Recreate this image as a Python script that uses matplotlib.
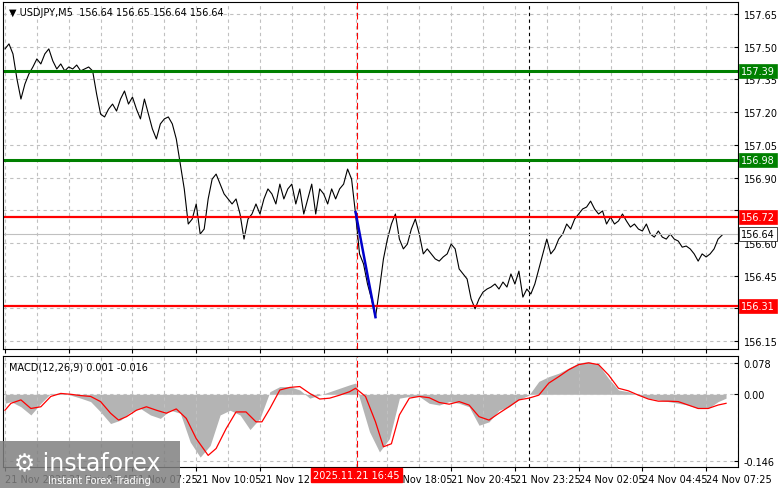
import numpy as np
import matplotlib
matplotlib.use('Agg')
from matplotlib import pyplot as plt
from matplotlib.patches import Rectangle

# close prices, one value every 2 bars (M5)
price = [157.490, 157.513, 157.467, 157.352, 157.260, 157.329, 157.375, 157.407, 157.444, 157.421,
         157.467, 157.490, 157.435, 157.398, 157.421, 157.389, 157.407, 157.398, 157.416, 157.389,
         157.398, 157.407, 157.389, 157.283, 157.191, 157.178, 157.214, 157.237, 157.205, 157.260,
         157.297, 157.237, 157.269, 157.214, 157.169, 157.260, 157.191, 157.123, 157.077, 157.146,
         157.169, 157.178, 157.146, 157.077, 156.962, 156.848, 156.687, 156.710, 156.779, 156.641,
         156.664, 156.802, 156.893, 156.916, 156.870, 156.825, 156.802, 156.779, 156.802, 156.733,
         156.618, 156.710, 156.733, 156.779, 156.733, 156.802, 156.848, 156.825, 156.779, 156.870,
         156.802, 156.848, 156.870, 156.779, 156.848, 156.733, 156.802, 156.870, 156.733, 156.848,
         156.825, 156.779, 156.848, 156.802, 156.848, 156.870, 156.939, 156.893, 156.733, 156.550,
         156.504, 156.412, 156.344, 156.260, 156.389, 156.527, 156.618, 156.687, 156.733, 156.618,
         156.573, 156.595, 156.664, 156.710, 156.641, 156.550, 156.573, 156.550, 156.527, 156.517,
         156.536, 156.550, 156.595, 156.573, 156.481, 156.458, 156.435, 156.344, 156.298, 156.344,
         156.375, 156.389, 156.398, 156.412, 156.389, 156.421, 156.398, 156.458, 156.412, 156.471,
         156.352, 156.389, 156.366, 156.412, 156.481, 156.550, 156.618, 156.550, 156.573, 156.618,
         156.641, 156.687, 156.664, 156.710, 156.733, 156.756, 156.765, 156.792, 156.756, 156.733,
         156.747, 156.687, 156.719, 156.687, 156.701, 156.733, 156.701, 156.673, 156.687, 156.664,
         156.655, 156.687, 156.641, 156.627, 156.655, 156.627, 156.618, 156.641, 156.618, 156.609,
         156.581, 156.586, 156.573, 156.550, 156.517, 156.550, 156.536, 156.550, 156.573, 156.618,
         156.636]

# MACD histogram (every 5 bars) and signal line
hist_bars = [0, 3, 8, 13, 18, 23, 28, 33, 38, 43, 48, 53, 58, 63, 68, 73, 78, 83, 88, 93,
             98, 103, 108, 113, 118, 123, 128, 133, 138, 143, 148, 153, 158, 163, 168, 173, 176,
             178, 183, 188, 193, 198, 203, 208, 213, 218, 223, 228, 233, 238, 243, 248, 253, 258,
             263, 268, 273, 278, 283, 288, 293, 298, 303, 308, 313, 318, 323, 328, 333, 338, 343,
             348, 353, 358, 362]
hist = [-0.021, -0.017, -0.029, -0.048, -0.021, 0.002, 0.002, -0.002, -0.009, -0.017,
        -0.041, -0.068, -0.060, -0.041, -0.033, -0.048, -0.056, -0.037, -0.044, -0.111,
        -0.146, -0.119, -0.048, -0.037, -0.048, -0.082, -0.056, 0.006, 0.018, 0.018,
        0.010, -0.009, -0.002, 0.006, 0.014, 0.022, 0.026, -0.009, -0.087, -0.134,
        -0.103, -0.009, -0.005, -0.005, -0.021, -0.025, -0.017, -0.021, -0.029, -0.072,
        -0.064, -0.037, -0.029, -0.013, -0.002, 0.030, 0.041, 0.049, 0.061, 0.073,
        0.076, 0.069, 0.037, 0.010, 0.006, -0.002, -0.009, -0.013, -0.017, -0.021,
        -0.025, -0.033, -0.033, -0.017, -0.009]
sig_bars = [0, 3, 8, 13, 18, 23, 28, 33, 38, 43, 48, 53, 57, 61, 66, 71, 76, 81, 86, 91,
            96, 102, 106, 111, 116, 121, 126, 129, 133, 138, 143, 148, 153, 158, 163, 168, 173,
            176, 181, 186, 190, 194, 198, 203, 208, 213, 218, 223, 228, 233, 238, 243, 248, 253,
            258, 263, 268, 273, 278, 283, 288, 293, 298, 303, 308, 313, 318, 323, 328, 333, 338,
            343, 348, 353, 358, 362]
signal = [-0.037, -0.021, -0.013, -0.033, -0.029, -0.005, 0.002, 0.000, -0.003, -0.005,
          -0.017, -0.044, -0.060, -0.052, -0.037, -0.029, -0.037, -0.044, -0.034, -0.056,
          -0.103, -0.142, -0.126, -0.080, -0.041, -0.041, -0.064, -0.064, -0.033, 0.010,
          0.016, 0.018, 0.002, -0.011, -0.009, -0.002, 0.006, 0.014, -0.005, -0.064,
          -0.122, -0.115, -0.048, -0.009, -0.005, -0.008, -0.019, -0.023, -0.017, -0.025,
          -0.052, -0.060, -0.044, -0.029, -0.013, -0.009, -0.002, 0.026, 0.041, 0.057,
          0.069, 0.073, 0.069, 0.045, 0.014, 0.008, -0.002, -0.011, -0.016, -0.016,
          -0.017, -0.025, -0.033, -0.033, -0.025, -0.021]

green_levels = [157.39, 156.98]
red_levels = [156.72, 156.31]
last_price = 156.64
drop_bars = [176, 186]
drop_prices = [156.742, 156.26]

price_ticks = [157.65, 157.50, 157.35, 157.20, 157.05, 156.90, 156.75, 156.60, 156.45, 156.30, 156.15]
hidden_ticks = [156.75, 156.30]  # covered by the level boxes
time_labels = ['21 Nov 2025', '21 Nov 04:45', '21 Nov 07:25', '21 Nov 10:05', '21 Nov 12:45',
               '21 Nov 15:25', '21 Nov 18:05', '21 Nov 20:45', '21 Nov 23:25', '24 Nov 02:05',
               '24 Nov 04:45', '24 Nov 07:25']
time_ticks = [32 * k for k in range(len(time_labels))]
cursor_bar = 176.5
cursor_label = '2025.11.21 16:45'
marker_bar = 263

W, H = 781, 489
fig = plt.figure(figsize=(W / 100, H / 100), dpi=100)
fig.patch.set_facecolor('white')
xmin, xmax = -1, 367.5

ax = fig.add_axes([3 / W, 1 - 350 / H, 735 / W, 347 / H])
ax2 = fig.add_axes([3 / W, 1 - 468 / H, 735 / W, 111 / H])

for a in (ax, ax2):
    a.set_xlim(xmin, xmax)
    a.set_xticks(time_ticks)
    a.set_xticks([t + 16 for t in time_ticks], minor=True)
    a.grid(True, which='both', color='#c0c0c0', linestyle=(0, (3, 3)), linewidth=0.8)
    a.yaxis.tick_right()
    a.tick_params(axis='y', direction='in', length=3, labelsize=7, pad=4)
    a.tick_params(axis='x', length=3, direction='out')
    a.tick_params(axis='x', which='minor', length=0)
    for s in a.spines.values():
        s.set_color('black')
        s.set_linewidth(0.8)
    a.axvline(cursor_bar, color='red', linestyle=(0, (6, 3)), linewidth=0.8)
    a.axvline(marker_bar, color='black', linestyle=(0, (3, 3)), linewidth=0.8)

# price panel
x = np.arange(len(price)) * 2
ax.plot(x, price, color='black', linewidth=0.8)
for lv in green_levels:
    ax.axhline(lv, color='#008000', linewidth=2.2)
for lv in red_levels:
    ax.axhline(lv, color='red', linewidth=1.6)
ax.axhline(last_price, color='#c0c0c0', linewidth=0.8)
ax.plot(drop_bars, drop_prices, color='#0000cc', linewidth=1.8)
ax.set_ylim(156.114, 157.705)
ax.set_yticks(price_ticks)
ax.set_yticklabels(['' if p in hidden_ticks else '%.2f' % p for p in price_ticks])
ax.set_xticklabels([])
for lv, fc, tc in [(green_levels[0], '#008000', 'white'), (green_levels[1], '#008000', 'white'),
                   (red_levels[0], 'red', 'white'), (red_levels[1], 'red', 'white'),
                   (last_price, 'white', 'black')]:
    ax.text(1.004, lv, '%.2f' % lv, transform=ax.get_yaxis_transform(), fontsize=7,
            color=tc, va='center', ha='left',
            bbox=dict(boxstyle='square,pad=0.2', fc=fc, ec='black' if fc == 'white' else fc, lw=0.5))
ax.text(0.008, 0.985, '\u25bc USDJPY,M5  156.64 156.65 156.64 156.64', transform=ax.transAxes,
        fontsize=7, va='top', ha='left')

# MACD panel
ax2.fill_between(hist_bars, hist, 0, color='#b4b4b4', linewidth=0)
ax2.plot(sig_bars, signal, color='red', linewidth=0.9)
ax2.set_ylim(-0.169, 0.089)
ax2.set_yticks([0.073, 0.0, -0.155])
ax2.set_yticklabels(['0.078', '0.00', '-0.146'])
ax2.set_xticklabels(time_labels, fontsize=7, ha='left')
ax2.tick_params(axis='x', pad=2)
ax2.text(0.008, 0.95, 'MACD(12,26,9) 0.001 -0.016', transform=ax2.transAxes, fontsize=7,
         va='top', ha='left')
ax2.text(cursor_bar, -0.176, cursor_label, transform=ax2.transData, fontsize=7, color='white',
         ha='center', va='top', zorder=10,
         bbox=dict(boxstyle='square,pad=0.25', fc='red', ec='red'))

# logo
fig.patches.append(Rectangle((0, 0), 180 / W, 47 / H, transform=fig.transFigure,
                             fc='#808080', alpha=0.85, ec='none'))
fig.text(14 / W, 1 - 463 / H, '\u2699 instaforex', fontsize=17, color='white', va='center')
fig.text(48 / W, 1 - 481 / H, 'Instant Forex Trading', fontsize=7, color='white', va='center')

fig.savefig('out.png', dpi=100)
